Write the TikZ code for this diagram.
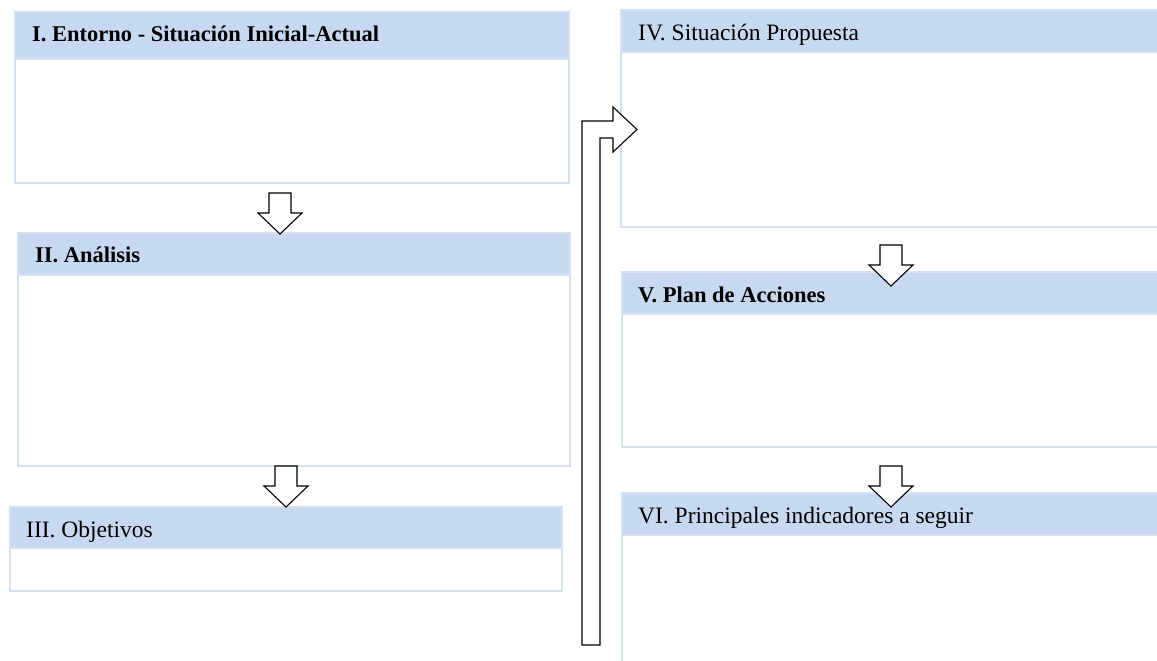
\documentclass[tikz,border=0pt]{standalone}
\usepackage{fontspec}
\setmainfont{Liberation Serif}
\usetikzlibrary{calc}
\definecolor{headblue}{RGB}{198,217,240}
\definecolor{boxline}{RGB}{212,226,243}
\begin{document}
\begin{tikzpicture}[x=1pt,y=-1pt,
  panel/.style={draw=boxline, line width=1.5pt, fill=white, inner sep=0pt, outer sep=0pt, anchor=north west},
  headbar/.style={draw=boxline, line width=1.2pt, fill=headblue, inner sep=0pt, outer sep=0pt, anchor=north west},
  titlereg/.style={anchor=base west, inner sep=0pt, font=\fontsize{23.5}{28}\selectfont},
  titlebold/.style={anchor=base west, inner sep=0pt, font=\fontsize{22.5}{27}\selectfont\bfseries},
  arrowline/.style={draw=black, fill=white, line width=1.1pt, line join=miter},
  blockdown/.pic={\path[arrowline] (-11,0) -- (11,0) -- (11,20) -- (22,20) -- (0,41) -- (-22,20) -- (-11,20) -- cycle;}
]
\useasboundingbox (0,0) rectangle (1157,661);
\clip (0,0) rectangle (1157,661);

% left column
\node[panel, minimum width=554pt, minimum height=171pt] (p1) at (15,12) {};
\node[headbar, minimum width=554pt, minimum height=47pt] (h1) at (p1.north west) {};
\node[panel, minimum width=552pt, minimum height=233pt] (p2) at (18,233) {};
\node[headbar, minimum width=552pt, minimum height=42pt] (h2) at (p2.north west) {};
\node[panel, minimum width=552pt, minimum height=84pt] (p3) at (10,507) {};
\node[headbar, minimum width=552pt, minimum height=41pt] (h3) at (p3.north west) {};

% right column (runs past the page edge)
\node[panel, minimum width=560pt, minimum height=217pt] (p4) at (621,10) {};
\node[headbar, minimum width=560pt, minimum height=42pt] (h4) at (p4.north west) {};
\node[panel, minimum width=560pt, minimum height=175pt] (p5) at (622,272) {};
\node[headbar, minimum width=560pt, minimum height=42pt] (h5) at (p5.north west) {};
\node[panel, minimum width=560pt, minimum height=200pt] (p6) at (622,493) {};
\node[headbar, minimum width=560pt, minimum height=42pt] (h6) at (p6.north west) {};

% hollow block arrows between the panels
\pic at (280,193) {blockdown};
\pic at (286,466) {blockdown};
\pic at (891,245) {blockdown};
\pic at (891,466) {blockdown};

% bent arrow from the left column up into panel IV
\coordinate (bentfoot) at (591,645);
\coordinate (benttip) at (637,129.5);
\path[arrowline] (582,645) -- (582,121) -- (613,121) -- (613,107) -- (benttip)
  -- (613,152) -- (613,138) -- (600,138) -- (600,645) -- cycle;

% panel titles
\node[titlebold] (t1) at ($(p1.north west)+(17,30)$) {I. Entorno - Situación Inicial-Actual};
\node[titlebold] (t2) at ($(p2.north west)+(17,29)$) {II. Análisis};
\node[titlereg]  (t3) at ($(p3.north west)+(16,30)$) {III. Objetivos};
\node[titlereg]  (t4) at ($(p4.north west)+(17,31)$) {IV. Situación Propuesta};
\node[titlebold] (t5) at ($(p5.north west)+(16,30)$) {V. Plan de Acciones};
\node[titlereg]  (t6) at ($(p6.north west)+(16,30)$) {VI. Principales indicadores a seguir};
\end{tikzpicture}
\end{document}
